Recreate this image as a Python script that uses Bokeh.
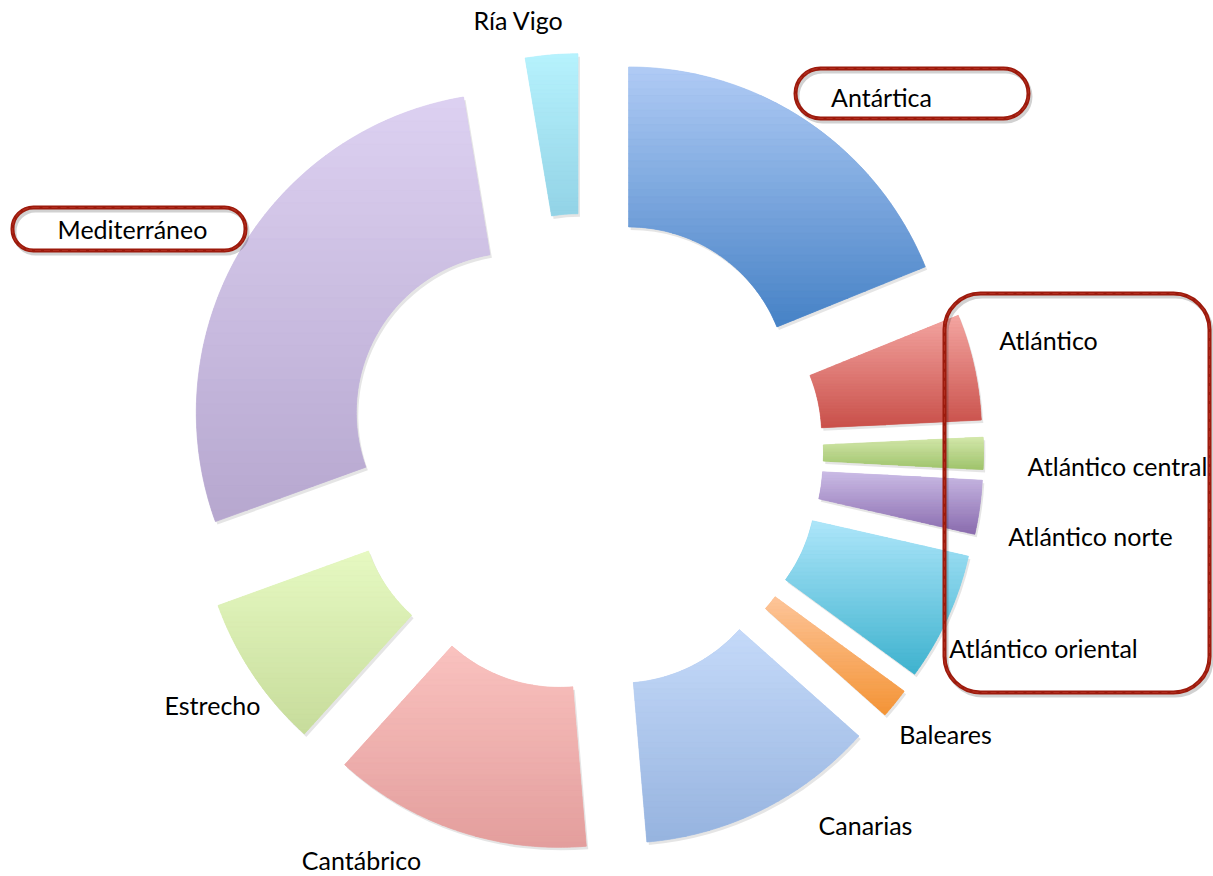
import numpy as np
from bokeh.plotting import figure
from bokeh.models import Range1d, BoxAnnotation, ColumnDataSource
from bokeh.embed import file_html
from bokeh.resources import INLINE
from bokeh.core.properties import value

# ---- data ----
regions = ["Antártica", "Atlántico", "Atlántico central", "Atlántico norte",
           "Atlántico oriental", "Baleares", "Canarias", "Cantábrico",
           "Estrecho", "Mediterráneo", "Ría Vigo"]
values = [68, 19.3, 5.8, 9.8, 23.4, 5.5, 43.5, 47, 28, 100.5, 9.5]

# ---- styles ----
top_colors = ["#b0cbf5", "#f4a6a2", "#d4e8ac", "#cbbce6", "#aee6fa", "#fdc59a",
              "#c5daf9", "#fac2bf", "#e6f9c2", "#ddd1f1", "#b6f2fd"]
bot_colors = ["#4682c6", "#c9504a", "#a0c46c", "#8a6cae", "#3eb2ce", "#f49436",
              "#96b3df", "#e39e9d", "#c7dc9b", "#b6a7cf", "#93d3e6"]
label_x = [881, 1048, 1117, 1090, 1043, 945, 865, 361, 212, 132, 518]
label_y = [780, 537, 411, 341, 229, 143, 52, 17, 172, 648, 857]

W, H = 1213, 876
CX, CY = 584, 424
R_OUT, R_IN, EXPLODE = 320, 160, 79


def hex2rgb(h):
    return np.array([int(h[i:i + 2], 16) for i in (1, 3, 5)], dtype=float)


def rgb2hex(c):
    return "#%02x%02x%02x" % tuple(int(round(v)) for v in c)


def mix(a, b, t):
    return rgb2hex(hex2rgb(a) * (1 - t) + hex2rgb(b) * t)


vals = np.array(values, dtype=float)
frac = vals / vals.sum() * 2 * np.pi
cum = np.cumsum(frac)
top = np.pi / 2
end_a = top - np.concatenate([[0], cum[:-1]])
start_a = top - cum
mid = (start_a + end_a) / 2
xs = CX + EXPLODE * np.cos(mid)
ys = CY + EXPLODE * np.sin(mid)
mid_colors = [mix(a, b, 0.5) for a, b in zip(top_colors, bot_colors)]

src = ColumnDataSource(dict(x=xs, y=ys, sx=xs + 2, sy=ys - 3,
                            start=start_a, end=end_a, color=mid_colors,
                            region=regions))

p = figure(width=W, height=H, x_range=Range1d(0, W),
           y_range=Range1d(0, H), output_backend="svg",
           toolbar_location=None, min_border=0,
           x_axis_location=None, y_axis_location=None)
p.grid.visible = False
p.outline_line_color = None
p.background_fill_color = "white"

# soft shadow
p.annular_wedge(x="sx", y="sy", inner_radius=R_IN, outer_radius=R_OUT,
                start_angle="start", end_angle="end", source=src,
                fill_color="#000000", fill_alpha=0.10, line_color=None)
p.annular_wedge(x="x", y="y", inner_radius=R_IN, outer_radius=R_OUT,
                start_angle="start", end_angle="end", source=src,
                fill_color="color", line_color=None)


# vertical gradient overlay, computed from the same wedge geometry
def clip_half(pts, y0, keep_above):
    out = []
    n = len(pts)
    for i in range(n):
        cx_, cy_ = pts[i]
        px_, py_ = pts[i - 1]
        cin = cy_ >= y0 if keep_above else cy_ <= y0
        pin = py_ >= y0 if keep_above else py_ <= y0
        if cin != pin:
            t = (y0 - py_) / (cy_ - py_)
            out.append((px_ + t * (cx_ - px_), y0))
        if cin:
            out.append((cx_, cy_))
    return out


gx, gy, gc = [], [], []
NB = 36
for i in range(len(values)):
    a = np.linspace(start_a[i], end_a[i], 90)
    ox = xs[i] + R_OUT * np.cos(a)
    oy = ys[i] + R_OUT * np.sin(a)
    ix = xs[i] + R_IN * np.cos(a[::-1])
    iy = ys[i] + R_IN * np.sin(a[::-1])
    poly = list(zip(np.concatenate([ox, ix]), np.concatenate([oy, iy])))
    ymax = max(q[1] for q in poly)
    ymin = min(q[1] for q in poly)
    edges = np.linspace(ymax, ymin, NB + 1)
    for k in range(NB):
        hi, lo = edges[k], edges[k + 1]
        band = clip_half(clip_half(poly, lo, True), hi, False)
        if len(band) < 3:
            continue
        gx.append([q[0] for q in band])
        gy.append([q[1] for q in band])
        gc.append(mix(top_colors[i], bot_colors[i], (k + 0.5) / NB))

p.patches(xs=gx, ys=gy, fill_color=gc, line_color=gc, line_width=0.7)

lsrc = ColumnDataSource(dict(x=label_x, y=label_y, text=regions))
p.text(x="x", y="y", text="text", source=lsrc, text_align="center",
       text_baseline="middle", text_font=value("Lato"),
       text_font_size="25px", text_color="#000000")

# red hand-drawn style callout frames
boxes = [(795, 1028, 758, 808, 25), (12, 245, 626, 669, 21),
         (944, 1209, 184, 583, 36)]
for l, r, b, t, rad in boxes:
    p.add_layout(BoxAnnotation(left=l + 2, right=r + 2, bottom=b - 3, top=t - 3,
                               fill_alpha=0, line_color="#000000",
                               line_alpha=0.18, line_width=4,
                               border_radius=rad))
    p.add_layout(BoxAnnotation(left=l, right=r, bottom=b, top=t,
                               fill_alpha=0, line_color="#9c1a0c",
                               line_alpha=1.0, line_width=4,
                               border_radius=rad))
    p.add_layout(BoxAnnotation(left=l, right=r, bottom=b, top=t,
                               fill_alpha=0, line_color="#c0392b",
                               line_alpha=0.6, line_width=1.2,
                               line_dash="6 3", border_radius=rad))

open("out.html", "w").write(file_html(p, INLINE))
